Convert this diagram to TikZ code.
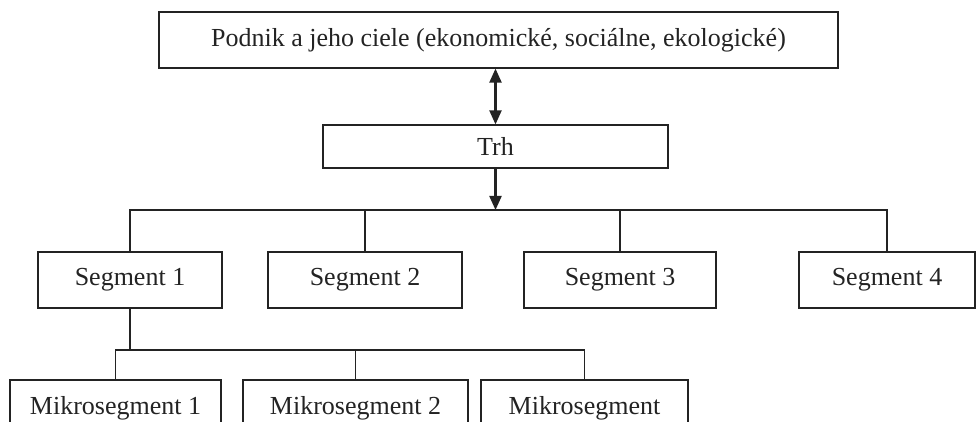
\documentclass[tikz,border=0pt]{standalone}
\usepackage{fontspec}
\setmainfont{Liberation Serif}
\usetikzlibrary{arrows.meta,positioning}
\definecolor{inkgray}{RGB}{35,35,35}
\tikzset{
  box/.style={draw=inkgray, line width=0.6pt, inner sep=0pt, text=inkgray,
    font=\fontsize{13}{15}\selectfont},
  link/.style={draw=inkgray, line width=0.9pt},
  tip/.style={-{Triangle[length=7pt,width=6pt]}, line width=1.1pt}
}

\begin{document}
\begin{tikzpicture}[x=0.5pt,y=-0.5pt]
  \useasboundingbox (0,0) rectangle (976,422);
  \clip (0,0) rectangle (976,422);

  % Podnik a trh
  \node[box, minimum width=339.5pt, minimum height=28pt] (firm) at (498.5,40)
    {Podnik a jeho ciele (ekonomické, sociálne, ekologické)};
  \node[box, minimum width=172.5pt, minimum height=21.5pt] (trh) at (495.5,146.5) {Trh};

  % Segmenty
  \node[box, minimum width=92pt, minimum height=28pt] (s1) at (130,280) {Segment 1};
  \node[box, minimum width=97pt, minimum height=28pt] (s2) at (365,280) {Segment 2};
  \node[box, minimum width=96pt, minimum height=28pt] (s3) at (620,280) {Segment 3};
  \node[box, minimum width=88pt, minimum height=28pt] (s4) at (887,280) {Segment 4};

  % Mikrosegmenty
  \node[box, minimum width=105.5pt, minimum height=28pt] (m1) at (115.5,408) {Mikrosegment 1};
  \node[box, minimum width=112.5pt, minimum height=28pt] (m2) at (355.5,408) {Mikrosegment 2};
  \node[box, minimum width=103.5pt, minimum height=28pt] (m3) at (584.5,408) {Mikrosegment};

  % Spojenia
  \draw[link, tip, {Triangle[length=7pt,width=6pt]}-{Triangle[length=7pt,width=6pt]}]
    (firm.south -| trh.north) -- (trh.north);
  \coordinate (bus) at (496,210);
  \draw[link, tip] (trh.south) -- (trh.south |- bus);
  \draw[link] (s1.north) -- (s1.north |- bus) -- (s4.north |- bus) -- (s4.north);
  \draw[link] (s2.north) -- (s2.north |- bus);
  \draw[link] (s3.north) -- (s3.north |- bus);
  \coordinate (mbus) at (125,350);
  \draw[link] (s1.south) -- (s1.south |- mbus);
  \draw[link] (m1.north) -- (m1.north |- mbus) -- (m3.north |- mbus) -- (m3.north);
  \draw[link] (m2.north) -- (m2.north |- mbus);
\end{tikzpicture}
\end{document}
